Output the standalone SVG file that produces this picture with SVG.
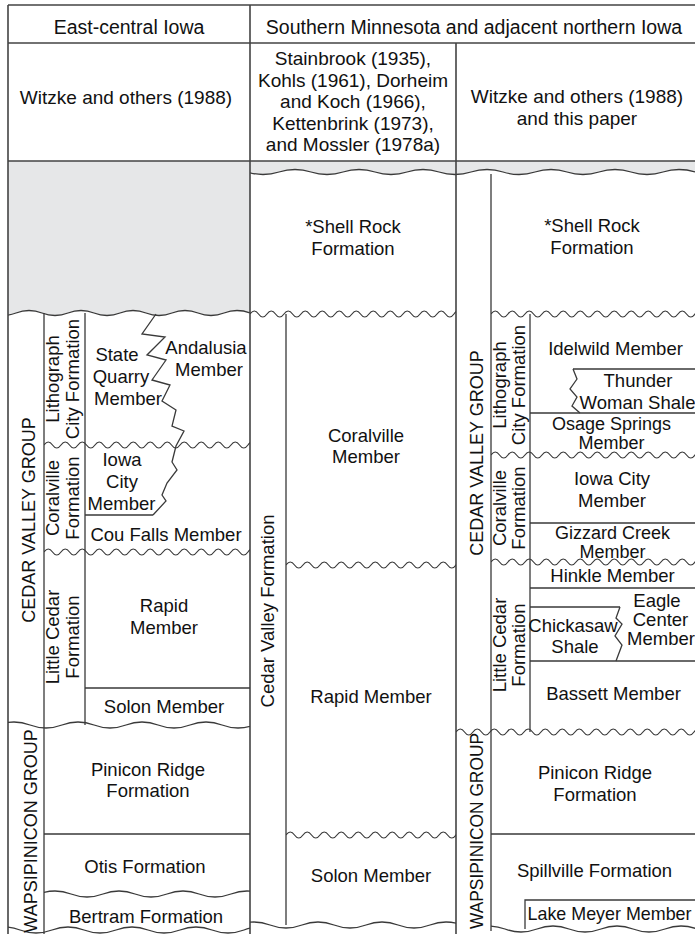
<svg xmlns="http://www.w3.org/2000/svg" xmlns:xlink="http://www.w3.org/1999/xlink" width="695" height="934" viewBox="0 0 695 934">
<style>
text{font-family:"Liberation Sans",Arial,Helvetica,sans-serif;fill:#111;font-size:18.5px;text-anchor:middle}
.h{font-size:19.5px}
.h2{font-size:19px}
.g{font-size:18px}
.t{font-size:18px}
.ln{fill:none;stroke:#3a3a3a;stroke-width:1.3}
.bd{fill:none;stroke:#444;stroke-width:1.6}
.gray{fill:#e6e7e8;stroke:none}
</style>
<defs>
<path id="sw" d="M0,0 q4.25,-6 8.5,0 t8.5,0 t8.5,0 t8.5,0 t8.5,0 t8.5,0 t8.5,0 t8.5,0 t8.5,0 t8.5,0 t8.5,0 t8.5,0 t8.5,0 t8.5,0 t8.5,0 t8.5,0 t8.5,0 t8.5,0 t8.5,0 t8.5,0 t8.5,0 t8.5,0 t8.5,0 t8.5,0 t8.5,0 t8.5,0 t8.5,0 t8.5,0 t8.5,0 t8.5,0 t8.5,0 t8.5,0" fill="none" stroke="#3a3a3a" stroke-width="1.2"/>
<path id="gw" d="M0,0 q16,-6 32,0 t32,0 t32,0 t32,0 t32,0 t32,0 t32,0 t32,0 t32,0 t32,0" fill="none" stroke="#3a3a3a" stroke-width="1.3"/>
</defs>

<!-- gray fills -->
<g id="gray-left">
<svg x="8" y="150" width="242" height="175">
<path class="gray" d="M0,11 H242 V163 Q229,158 216,163 T190,163 T164,163 T138,163 T112,163 T86,163 T60,163 T34,163 T8,163 T-18,163 V11 Z"/>
<path class="ln" d="M242,163 Q229,158 216,163 T190,163 T164,163 T138,163 T112,163 T86,163 T60,163 T34,163 T8,163 T-18,163"/>
</svg>
</g>
<g id="gray-right">
<svg x="250" y="150" width="445" height="40">
<path class="gray" d="M0,11 H445 V22 Q429,17 413,22 T381,22 T349,22 T317,22 T285,22 T253,22 T221,22 T189,22 T157,22 T125,22 T93,22 T61,22 T29,22 T-3,22 V11 Z"/>
<path class="ln" d="M445,22 Q429,17 413,22 T381,22 T349,22 T317,22 T285,22 T253,22 T221,22 T189,22 T157,22 T125,22 T93,22 T61,22 T29,22 T-3,22"/>
</svg>
</g>

<!-- frame and dividers -->
<g id="connectors">
<path class="bd" d="M8,5 H695 M8,43 H695 M8,161 H695 M8,5 V934 M250,5 V934 M456,43 V934"/>
<path class="ln" d="M44,313 V934 M85,313 V725 M286,314 V925 M491,174 V931 M530,314 V732"/>
<path class="ln" d="M85,688 H250 M44,834 H250 M85,515 H153"/>
<path class="ln" d="M573,369 H695 M530,413 H695 M530,523 H695 M530,588 H695 M530,607 H620 M530,661 H695 M491,834 H695 M695,900 H525 V929"/>
<!-- zigzags -->
<path class="ln" d="M156,314 L142,334 L165,337 L147,355 L166,360 L152,380 L170,385 L162,401 L176,410 L172,426 L184,431 L176,446 L172,462 L177,470 L167,483 L162,495 L166,501 L153,515"/>
<path class="ln" d="M573,369 L577,379 L570,389 L577,397 L572,406 L580,413"/>
<path class="ln" d="M620,607 L616,618 L622,624 L615,636 L622,645 L616,661"/>
<!-- small waves -->
<svg x="44" y="435" width="206" height="20"><use href="#sw" y="10"/></svg>
<svg x="44" y="542" width="206" height="20"><use href="#sw" y="10"/></svg>
<svg x="250" y="304" width="206" height="20"><use href="#sw" y="10"/></svg>
<svg x="286" y="555" width="170" height="20"><use href="#sw" y="10"/></svg>
<svg x="286" y="825" width="170" height="20"><use href="#sw" y="10"/></svg>
<svg x="491" y="304" width="204" height="20"><use href="#sw" y="10"/></svg>
<svg x="491" y="445" width="204" height="20"><use href="#sw" y="10"/></svg>
<svg x="491" y="552" width="204" height="20"><use href="#sw" y="10"/></svg>
<svg x="456" y="722" width="239" height="20"><use href="#sw" y="10"/></svg>
<!-- gentle waves -->
<svg x="8" y="715" width="242" height="20"><use href="#gw" x="-10" y="10"/></svg>
<svg x="44" y="884" width="206" height="20"><use href="#gw" x="-5" y="10"/></svg>
<svg x="8" y="920" width="242" height="14"><use href="#gw" x="-20" y="10"/></svg>
<svg x="250" y="915" width="206" height="19"><use href="#gw" x="-12" y="10"/></svg>
<svg x="491" y="919" width="204" height="15"><use href="#gw" x="-18" y="10"/></svg>
</g>

<!-- headers -->
<g id="hdr-east"><text class="h" x="129" y="34">East-central Iowa</text></g>
<g id="hdr-south"><text class="h" x="474" y="34">Southern Minnesota and adjacent northern Iowa</text></g>
<g id="hdr-witzke-left"><text class="h2" x="126" y="104">Witzke and others (1988)</text></g>
<g id="hdr-stainbrook">
<text class="h2" x="353" y="65">Stainbrook (1935),</text>
<text class="h2" x="353" y="86.5">Kohls (1961), Dorheim</text>
<text class="h2" x="353" y="108">and Koch (1966),</text>
<text class="h2" x="353" y="129.5">Kettenbrink (1973),</text>
<text class="h2" x="353" y="151">and Mossler (1978a)</text>
</g>
<g id="hdr-witzke-right">
<text class="h2" x="577" y="103">Witzke and others (1988)</text>
<text class="h2" x="577" y="124.5">and this paper</text>
</g>

<!-- left column -->
<g id="l-cvg"><text class="g" transform="translate(35,520) rotate(-90)">CEDAR VALLEY GROUP</text></g>
<g id="l-wg"><text class="g" transform="translate(36.5,831) rotate(-90)">WAPSIPINICON GROUP</text></g>
<g id="l-lith">
<text transform="translate(58.5,379) rotate(-90)">Lithograph</text>
<text transform="translate(78.5,379) rotate(-90)">City Formation</text>
</g>
<g id="l-coral">
<text transform="translate(58.5,498) rotate(-90)">Coralville</text>
<text transform="translate(78.5,498) rotate(-90)">Formation</text>
</g>
<g id="l-little">
<text transform="translate(58.5,637) rotate(-90)">Little Cedar</text>
<text transform="translate(78.5,637) rotate(-90)">Formation</text>
</g>
<g id="l-statequarry">
<text x="117" y="361">State</text>
<text x="121" y="383">Quarry</text>
<text x="128" y="405">Member</text>
</g>
<g id="l-andalusia">
<text x="206" y="354">Andalusia</text>
<text x="209" y="376">Member</text>
</g>
<g id="l-iowacity">
<text x="122" y="466">Iowa</text>
<text x="122" y="488">City</text>
<text x="121.5" y="510">Member</text>
</g>
<g id="l-coufalls"><text x="166" y="541">Cou Falls Member</text></g>
<g id="l-rapid">
<text x="164" y="612">Rapid</text>
<text x="164" y="634">Member</text>
</g>
<g id="l-solon"><text x="164" y="713">Solon Member</text></g>
<g id="l-pinicon">
<text x="148" y="776">Pinicon Ridge</text>
<text x="148" y="797">Formation</text>
</g>
<g id="l-otis"><text x="145" y="873">Otis Formation</text></g>
<g id="l-bertram"><text x="146" y="923">Bertram Formation</text></g>

<!-- middle column -->
<g id="m-cvf"><text transform="translate(273.5,611) rotate(-90)">Cedar Valley Formation</text></g>
<g id="m-shellrock">
<text x="353" y="233">*Shell Rock</text>
<text x="353" y="255">Formation</text>
</g>
<g id="m-coralville">
<text x="366" y="442">Coralville</text>
<text x="366" y="463">Member</text>
</g>
<g id="m-rapid"><text x="371" y="703">Rapid Member</text></g>
<g id="m-solon"><text x="371" y="882">Solon Member</text></g>

<!-- right column -->
<g id="r-cvg"><text class="g" transform="translate(483,453) rotate(-90)">CEDAR VALLEY GROUP</text></g>
<g id="r-wg"><text class="g" transform="translate(483,831) rotate(-90)" textLength="196" lengthAdjust="spacingAndGlyphs">WAPSIPINICON GROUP</text></g>
<g id="r-lith">
<text transform="translate(506,385) rotate(-90)">Lithograph</text>
<text transform="translate(525,385) rotate(-90)">City Formation</text>
</g>
<g id="r-coral">
<text transform="translate(506,508) rotate(-90)">Coralville</text>
<text transform="translate(525,508) rotate(-90)">Formation</text>
</g>
<g id="r-little">
<text transform="translate(506,645) rotate(-90)">Little Cedar</text>
<text transform="translate(525,645) rotate(-90)">Formation</text>
</g>
<g id="r-shellrock">
<text x="592" y="232">*Shell Rock</text>
<text x="592" y="254">Formation</text>
</g>
<g id="r-idelwild"><text x="615.5" y="355">Idelwild Member</text></g>
<g id="r-thunder">
<text x="638" y="387">Thunder</text>
<text x="637.5" y="409">Woman Shale</text>
</g>
<g id="r-osage">
<text class="t" x="611.5" y="429.5">Osage Springs</text>
<text class="t" x="611.5" y="449">Member</text>
</g>
<g id="r-iowacity">
<text x="612" y="485">Iowa City</text>
<text x="612" y="507">Member</text>
</g>
<g id="r-gizzard">
<text class="t" x="612.5" y="538.5">Gizzard Creek</text>
<text class="t" x="612.5" y="558">Member</text>
</g>
<g id="r-hinkle"><text x="612.5" y="582">Hinkle Member</text></g>
<g id="r-eagle">
<text x="657" y="607">Eagle</text>
<text x="660.5" y="626">Center</text>
<text x="661" y="645">Member</text>
</g>
<g id="r-chickasaw">
<text x="573" y="632">Chickasaw</text>
<text x="575" y="653">Shale</text>
</g>
<g id="r-bassett"><text x="613.5" y="700">Bassett Member</text></g>
<g id="r-pinicon">
<text x="595" y="779">Pinicon Ridge</text>
<text x="595" y="801">Formation</text>
</g>
<g id="r-spillville"><text x="594.5" y="877">Spillville Formation</text></g>
<g id="r-lakemeyer"><text x="527.5" y="920" style="text-anchor:start" textLength="164" lengthAdjust="spacingAndGlyphs">Lake Meyer Member</text></g>
</svg>
